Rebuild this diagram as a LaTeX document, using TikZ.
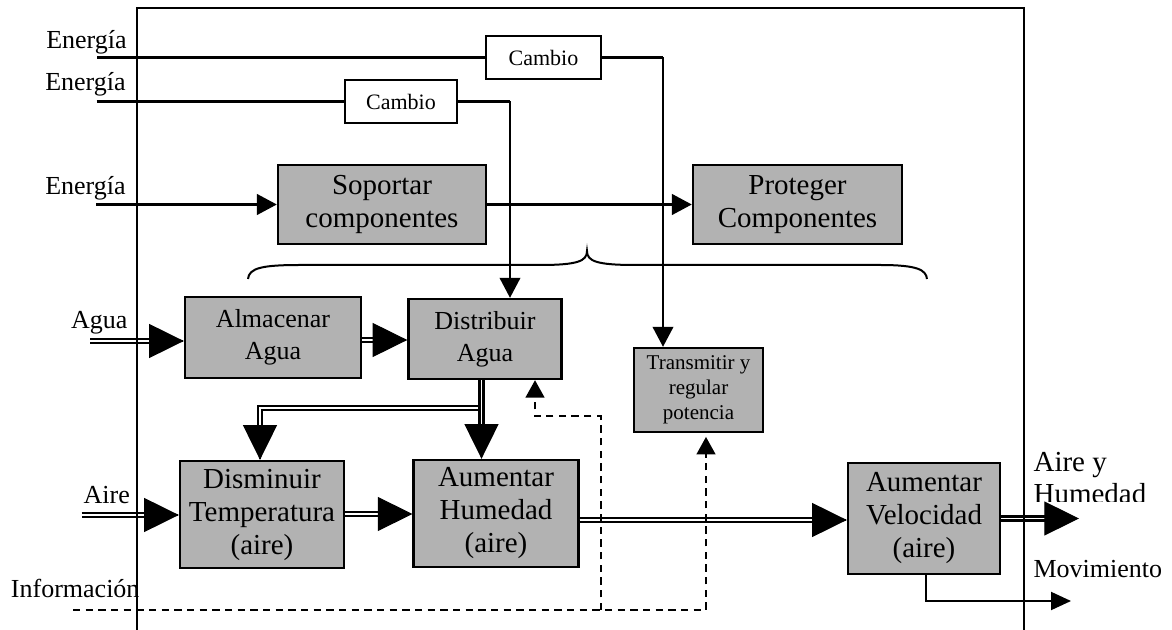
\documentclass[tikz,border=0pt]{standalone}
\usepackage{fontspec}
\setmainfont{Liberation Serif}
\usetikzlibrary{arrows.meta,calc}
\begin{document}
\begin{tikzpicture}[x=0.75pt,y=-0.75pt,
  fbox/.style={draw, line width=1.8pt, fill=black!30, inner sep=0pt, align=center},
  cbox/.style={draw, line width=1.5pt, fill=white, inner sep=0pt, minimum height=32.25pt, font=\fontsize{16.5}{19}\selectfont},
  bigfont/.style={font=\fontsize{21.75}{24.75}\selectfont},
  midfont/.style={font=\fontsize{19.5}{23.75}\selectfont},
  lbl/.style={anchor=base west, inner sep=0pt, font=\fontsize{19.5}{23.75}\selectfont},
  sline/.style={line width=2pt},
  tline/.style={line width=1.4pt},
  sarrow/.style={-{Triangle[length=15pt,width=15.5pt]}},
  dline/.style={double, line width=1.7pt, double distance=1.4pt, shorten >=14pt},
  darrow/.style={-{Triangle[length=26pt,width=25.5pt]}, line width=0.8pt},
  dashline/.style={line width=1.5pt, dash pattern=on 5.5pt off 4pt},
  darr/.style={-{Triangle[length=13pt,width=14pt]}},
]
\useasboundingbox (0,0) rectangle (1172,630);

% boxes
\node[fbox,bigfont,minimum width=156pt,minimum height=59.25pt] (soportar) at (382,204.5) {Soportar\\componentes};
\node[fbox,bigfont,minimum width=156.75pt,minimum height=59.25pt] (proteger) at (797.5,204.5) {Proteger\\Componentes};
\node[fbox,midfont,minimum width=132pt,minimum height=60.75pt] (almacenar) at (273,337.5) {Almacenar\\Agua};
\node[fbox,midfont,minimum width=114.75pt,minimum height=60pt] (distribuir) at (485,339) {Distribuir\\Agua};
\node[fbox,bigfont,minimum width=123pt,minimum height=80.25pt] (disminuir) at (262,514.5) {Disminuir\\Temperatura\\(aire)};
\node[fbox,bigfont,minimum width=123.5pt,minimum height=80.25pt] (aumhum) at (496,513.5) {Aumentar\\Humedad\\(aire)};
\node[fbox,bigfont,minimum width=114pt,minimum height=83.25pt] (aumvel) at (924,518.5) {Aumentar\\Velocidad\\(aire)};
\node[fbox,font=\fontsize{15.75}{18.75}\selectfont,minimum width=96.75pt,minimum height=63pt] (transmitir) at (698.5,390) {Transmitir y\\regular\\potencia};
\node[cbox,minimum width=86.25pt] (cambio1) at (543.5,57.5) {Cambio};
\node[cbox,minimum width=84pt] (cambio2) at (401,101.5) {Cambio};

% labels
\node[lbl] (en1) at (46,48.3) {Energía};
\node[lbl] (en2) at (45,90.7) {Energía};
\node[lbl] (en3) at (45,194.3) {Energía};
\node[lbl] (agua) at (70.8,328.3) {Agua};
\node[lbl] (aire) at (83.4,503.3) {Aire};
\node[lbl] (info) at (10.7,597.3) {Información};
\node[lbl] (mov) at (1033.3,577.3) {Movimiento};
\node[lbl,font=\fontsize{21.75}{24}\selectfont] (airey) at (1033.3,471.7) {Aire y};
\begin{scope}
\clip (1025,475) rectangle (1172,502);
\node[lbl,font=\fontsize{21.75}{24}\selectfont] (humedad) at (1033.3,504) {Humedad};
\end{scope}

% energy lines
\coordinate (e1in) at (97,57.5);
\coordinate (e2in) at (96.5,101.5);
\coordinate (e3in) at (96,204.5);
\coordinate (c1x) at (663,0);
\coordinate (c2x) at (510,0);
\draw[sline] (e1in) -- (cambio1.west);
\draw[sline] (cambio1.east) -- (cambio1.east -| c1x);
\draw[tline,sarrow] (cambio1.east -| c1x) -- (c1x |- transmitir.north);
\draw[sline] (e2in) -- (cambio2.west);
\draw[sline] (cambio2.east) -- (cambio2.east -| c2x);
\draw[tline,sarrow] (cambio2.east -| c2x) -- (c2x |- distribuir.north);
\draw[sline,sarrow] (e3in) -- (soportar.west);
\draw[sline,sarrow] (soportar.east) -- (proteger.west);

% brace
\draw[line width=1.5pt] (248,279) .. controls (249,268) and (262,265) .. (300,265) -- (540,265)
  .. controls (578,265) and (587,261) .. (587,251)
  .. controls (587,261) and (596,265) .. (635,265) -- (880,265)
  .. controls (918,265) and (926,270) .. (927,279);

% water / air double lines
\coordinate (aguain) at (90,341);
\coordinate (aguaend) at (aguain -| almacenar.west);
\draw[dline] (aguain) -- (aguaend);
\draw[darrow] ($(aguaend)+(-1,0)$) -- (aguaend);

\coordinate (yad) at (0,340);
\draw[dline] (almacenar.east |- yad) -- (distribuir.west |- yad);
\draw[darrow] ($(distribuir.west |- yad)+(-1,0)$) -- (distribuir.west |- yad);

\coordinate (dx) at (481.5,408);
\coordinate (bx) at (260,408);
\draw[dline] ($(dx)+(-2,0)$) -- (bx) -- (bx |- disminuir.north);
\draw[darrow] ($(bx |- disminuir.north)+(0,-1)$) -- (bx |- disminuir.north);
\draw[dline] (dx |- distribuir.south) -- (dx |- aumhum.north);
\draw[darrow] ($(dx |- aumhum.north)+(0,-1)$) -- (dx |- aumhum.north);

\coordinate (airein) at (81.5,515);
\coordinate (aireend) at (airein -| disminuir.west);
\draw[dline] (airein) -- (aireend);
\draw[darrow] ($(aireend)+(-1,0)$) -- (aireend);

\coordinate (ydh) at (0,514);
\draw[dline] (disminuir.east |- ydh) -- (aumhum.west |- ydh);
\draw[darrow] ($(aumhum.west |- ydh)+(-1,0)$) -- (aumhum.west |- ydh);

\coordinate (yhv) at (0,520);
\draw[dline] (aumhum.east |- yhv) -- (aumvel.west |- yhv);
\draw[darrow] ($(aumvel.west |- yhv)+(-1,0)$) -- (aumvel.west |- yhv);

\coordinate (velout) at (1079,518.5);
\draw[dline] (aumvel.east) -- (velout);
\draw[darrow] ($(velout)+(-1,0)$) -- (velout);

% movement
\coordinate (mv) at (926,601);
\coordinate (movout) at (1071,601);
\draw[line width=1.5pt,-{Triangle[length=15pt,width=13.5pt]}] (mv |- aumvel.south) -- (mv) -- (movout);

% information (dashed)
\coordinate (infin) at (73,610);
\coordinate (j1) at (600.5,610);
\coordinate (j2) at (706,610);
\coordinate (k1) at (600.5,416.5);
\coordinate (k2) at (535,416.5);
\draw[dashline,darr,shorten >=2.8pt] (infin) -- (j2) -- (j2 |- transmitir.south);
\draw[dashline,darr] (j1) -- (k1) -- (k2) -- (k2 |- distribuir.south);

% frame
\draw[line width=1.5pt] (137,632) -- (137,8) -- (1023.5,8) -- (1023.5,632);
\end{tikzpicture}
\end{document}
